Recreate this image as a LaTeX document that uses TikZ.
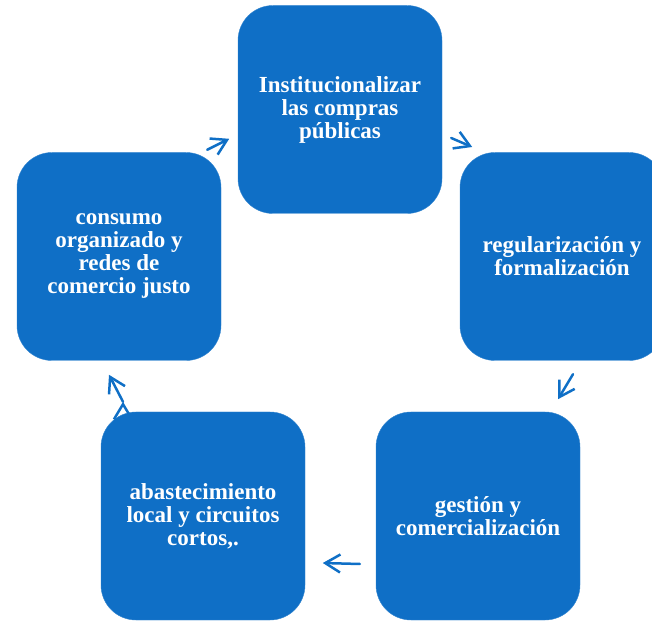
\documentclass[tikz,border=0pt]{standalone}
\usepackage{fontspec}
\setmainfont{Liberation Serif}
\usepackage{tikz}
\usetikzlibrary{arrows.meta}
\definecolor{boxblue}{HTML}{0F6FC6}

\begin{document}
\begin{tikzpicture}[x=1pt,y=1pt,>={Straight Barb[length=15pt,width=18pt]},
    box/.style={rectangle,rounded corners=35pt,fill=boxblue,draw=boxblue!85!white,
      minimum width=204pt,minimum height=208pt,align=center,text=white,
      font=\bfseries\fontsize{23}{23}\selectfont},
    link/.style={->,draw=boxblue,line width=2.5pt,line cap=round}]
%    \draw[help lines] (0,0) grid[step=50] (652,620);

    \useasboundingbox (0,0) rectangle (652,620);
    \clip (0,0) rectangle (652,620);

    \node[box] (top)      at (340,510.5) {Institucionalizar\\las compras\\públicas};
    \node[box] (right)    at (562,363.5) {regularización y\\formalización};
    \node[box] (botright) at (478,104)   {gestión y\\comercialización};
    \node[box] (botleft)  at (203,104)   {abastecimiento\\local y circuitos\\cortos,.};
    \node[box] (left)     at (119,363.5) {consumo\\organizado y\\redes de\\comercio justo};

    \coordinate (t1) at ([shift={(-14,2.5)}]left.north east);
    \coordinate (h1) at ([shift={(8,13.5)}]left.north east);
    \coordinate (t2) at ([shift={(9,-28.5)}]top.east);
    \coordinate (h2) at ([shift={(30,-37.5)}]top.east);
    \coordinate (t3) at ([shift={(11,-13.5)}]right.south);
    \coordinate (h3) at ([shift={(-4,-38.5)}]right.south);
    \coordinate (t4) at ([shift={(-16,-48)}]botright.west);
    \coordinate (h4) at ([shift={(-53,-47)}]botright.west);
    \coordinate (t5) at ([shift={(-80,10)}]botleft.north);
    \coordinate (h5) at ([shift={(-94,37)}]botleft.north);

    \path [link]
    (t1) edge (h1)
    (t2) edge (h2)
    (t3) edge (h3)
    (t4) edge (h4)
    (t5) edge (h5);
  \end{tikzpicture}
\end{document}
